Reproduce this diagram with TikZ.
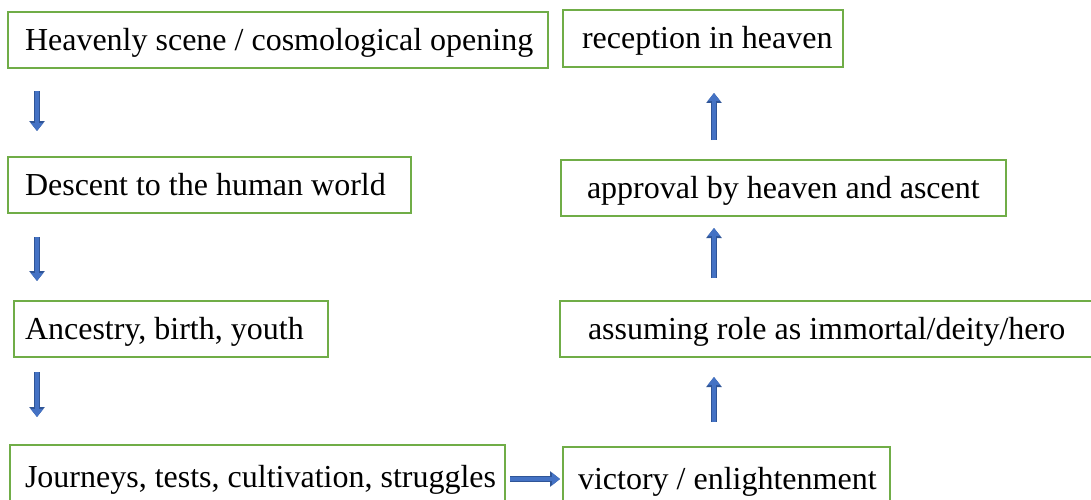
\documentclass[tikz,border=0pt]{standalone}
\usepackage{fontspec}
\setmainfont{Liberation Serif}
\usetikzlibrary{arrows.meta,calc}
\definecolor{boxgreen}{HTML}{70AD47}
\definecolor{arrfill}{HTML}{4472C4}
\definecolor{arrline}{HTML}{2F5597}
\tikzset{
  stagebox/.style={draw=boxgreen, line width=2pt, anchor=north west, outer sep=0pt,
    inner ysep=0pt, minimum height=56pt, font=\fontsize{32}{34}\selectfont},
  blk/.style={line width=4pt, color=arrfill, -{Triangle[length=8pt,width=12pt]},
    preaction={draw=arrline, line width=6pt, -{Triangle[length=10pt,width=15pt]}}}
}
\newcommand{\boxtext}[2]{\makebox[#1pt][l]{\rule[-0.36em]{0pt}{1.36em}#2}}
\begin{document}
\begin{tikzpicture}[x=1pt,y=-1pt]
\useasboundingbox (0,0) rectangle (1091,500);
\clip (0,0) rectangle (1091,500);
\coordinate (colL) at (37,0);
\coordinate (colR) at (714,0);
\node[stagebox, inner xsep=17pt] (h) at (8,12) {\boxtext{506}{Heavenly scene / cosmological opening}};
\node[stagebox, inner xsep=19pt, minimum height=57pt] (r) at (563,10) {\boxtext{242}{reception in heaven}};
\node[stagebox, inner xsep=17pt] (d) at (8,157) {\boxtext{369}{Descent to the human world}};
\node[stagebox, inner xsep=26pt] (p) at (561,160) {\boxtext{393}{approval by heaven and ascent}};
\node[stagebox, inner xsep=11pt] (a) at (14,301) {\boxtext{292}{Ancestry, birth, youth}};
\node[stagebox, inner xsep=28pt] (s) at (560,301) {\boxtext{479}{assuming role as immortal/deity/hero}};
\node[stagebox, inner xsep=15pt, minimum height=64pt] (j) at (10,445) {\boxtext{465}{Journeys, tests, cultivation, struggles}};
\node[stagebox, inner xsep=15pt, minimum height=64pt] (v) at (563,447) {\boxtext{297}{victory / enlightenment}};
\draw[blk, shorten <=23pt, shorten >=26pt] (h.south -| colL) -- (d.north -| colL);
\draw[blk, shorten <=24pt, shorten >=20pt] (d.south -| colL) -- (a.north -| colL);
\draw[blk, shorten <=15pt, shorten >=28pt] (a.south -| colL) -- (j.north -| colL);
\draw[blk, shorten <=5pt, shorten >=3pt] ([yshift=-2pt]j.east) -- ([yshift=-2pt]j.east -| v.west);
\draw[blk, shorten <=25pt, shorten >=20pt] (v.north -| colR) -- (s.south -| colR);
\draw[blk, shorten <=23pt, shorten >=12pt] (s.north -| colR) -- (p.south -| colR);
\draw[blk, shorten <=20pt, shorten >=26pt] (p.north -| colR) -- (r.south -| colR);
\end{tikzpicture}
\end{document}
